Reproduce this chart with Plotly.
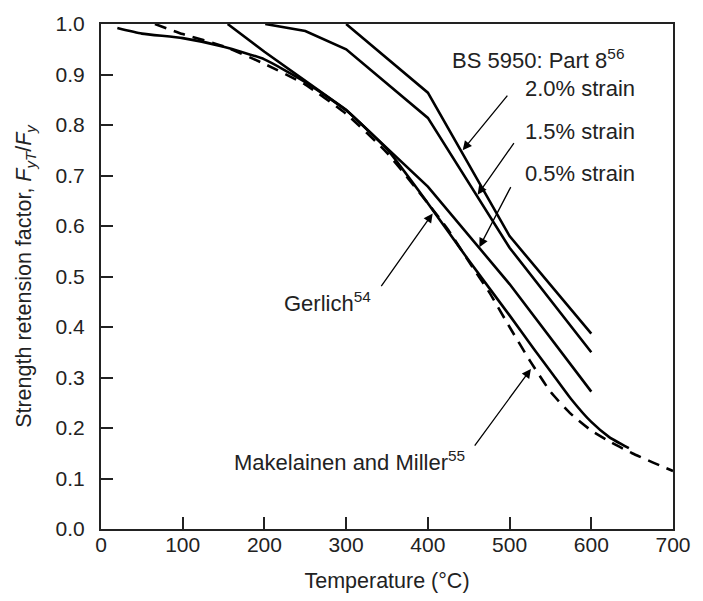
import plotly.graph_objects as go

# ---- data ----
gerlich_T = [20, 50, 100, 150, 200, 250, 300, 350, 400, 450, 500, 530, 553, 575, 600, 622, 646]
gerlich_v = [0.992, 0.981, 0.972, 0.955, 0.930, 0.885, 0.829, 0.752, 0.645, 0.532, 0.423, 0.356, 0.306, 0.258, 0.212, 0.182, 0.160]

mm_T = [66, 100, 150, 200, 250, 300, 350, 400, 425, 450, 475, 500, 525, 550, 575, 600, 625, 650, 675, 700]
mm_v = [1.0, 0.980, 0.956, 0.921, 0.880, 0.822, 0.745, 0.645, 0.592, 0.530, 0.469, 0.400, 0.333, 0.272, 0.228, 0.195, 0.171, 0.150, 0.132, 0.115]

bs20_T = [300, 400, 500, 600]
bs20_v = [1.0, 0.864, 0.580, 0.387]

bs15_T = [201, 250, 300, 400, 500, 600]
bs15_v = [1.0, 0.986, 0.950, 0.814, 0.557, 0.350]

bs05_T = [155, 200, 300, 400, 500, 600]
bs05_v = [1.0, 0.945, 0.830, 0.678, 0.485, 0.272]

x_ticks = [0, 100, 200, 300, 400, 500, 600, 700]
y_ticks = [0.0, 0.1, 0.2, 0.3, 0.4, 0.5, 0.6, 0.7, 0.8, 0.9, 1.0]

# labels: (text, x, y)
labels = [
    ("BS 5950: Part 8<sup>56</sup>", 426.5, 0.930),
    ("2.0% strain", 516, 0.873),
    ("1.5% strain", 516, 0.788),
    ("0.5% strain", 516, 0.704),
    ("Gerlich<sup>54</sup>", 221, 0.449),
    ("Makelainen and Miller<sup>55</sup>", 160, 0.134),
]
# arrows: (head_x, head_y, tail_x, tail_y)
arrows = [
    (442.6, 0.750, 498.8, 0.861),
    (460.9, 0.662, 506.6, 0.767),
    (463.0, 0.558, 502.4, 0.680),
    (405.9, 0.625, 341.7, 0.478),
    (526.1, 0.317, 456.0, 0.162),
]

FONT = "Liberation Sans, Arial, Helvetica, sans-serif"
LW = 2.6

fig = go.Figure()
fig.add_trace(go.Scatter(x=gerlich_T, y=gerlich_v, mode="lines",
                         line=dict(color="black", width=LW, shape="spline", smoothing=0.5)))
fig.add_trace(go.Scatter(x=mm_T, y=mm_v, mode="lines",
                         line=dict(color="black", width=LW, shape="spline", smoothing=0.5, dash="12px,8px")))
for T, v in [(bs20_T, bs20_v), (bs15_T, bs15_v), (bs05_T, bs05_v)]:
    fig.add_trace(go.Scatter(x=T, y=v, mode="lines", line=dict(color="black", width=LW)))

annotations = []
for text, x, y in labels:
    annotations.append(dict(text=text, x=x, y=y, xref="x", yref="y", showarrow=False,
                            xanchor="left", yanchor="middle",
                            font=dict(family=FONT, size=22, color="#222")))
for hx, hy, tx, ty in arrows:
    annotations.append(dict(text="", x=hx, y=hy, ax=tx, ay=ty, xref="x", yref="y",
                            axref="x", ayref="y", showarrow=True, arrowhead=2,
                            arrowsize=1.4, arrowwidth=1.3, arrowcolor="black"))

fig.update_layout(
    width=703, height=601,
    margin=dict(l=101, r=29, t=15, b=71),
    paper_bgcolor="white", plot_bgcolor="white",
    showlegend=False,
    font=dict(family=FONT, size=21, color="#222"),
    annotations=annotations,
)
fig.update_xaxes(range=[0, 700], tickvals=x_ticks, ticks="inside", ticklen=12, tickwidth=2,
                 tickcolor="#222", showline=True, linecolor="#222", linewidth=2, mirror=True,
                 showgrid=False, zeroline=False, ticklabelstandoff=-4,
                 title=dict(text="Temperature (°C)", font=dict(size=21.5), standoff=18))
fig.update_yaxes(range=[0, 1.0], tickvals=y_ticks, tickformat=".1f", ticks="inside", ticklen=12,
                 tickwidth=2, tickcolor="#222", showline=True, linecolor="#222", linewidth=2,
                 mirror=True, showgrid=False, zeroline=False, ticklabelstandoff=10,
                 title=dict(text="Strength retension factor, <i>F</i><sub><i>yT</i></sub>/<i>F</i><sub><i>y</i></sub>",
                            font=dict(size=21.5), standoff=18))

fig.write_html("out.html")
